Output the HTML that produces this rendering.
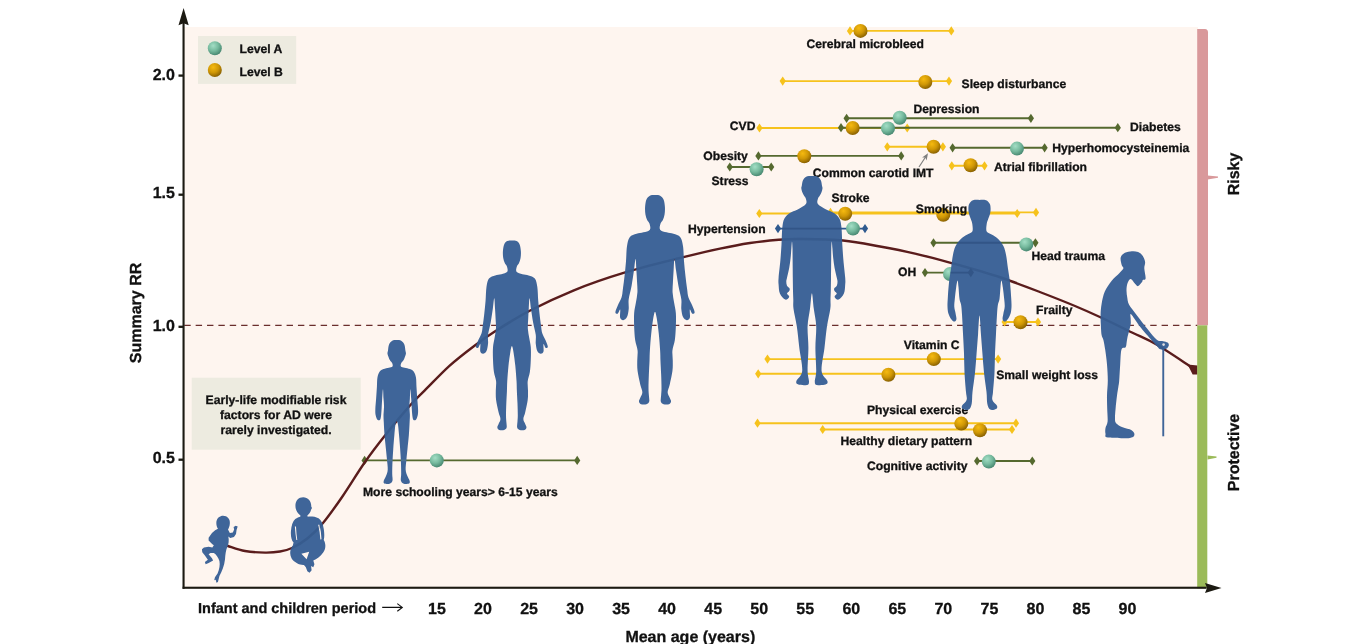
<!DOCTYPE html>
<html><head><meta charset="utf-8"><title>Chart</title>
<style>
html,body{margin:0;padding:0;background:#fff;}
body{width:1361px;height:644px;overflow:hidden;font-family:"Liberation Sans",sans-serif;}
svg{display:block;}
text{font-family:"Liberation Sans",sans-serif;font-weight:bold;fill:#111111;stroke:#111111;stroke-width:0.3px;text-rendering:geometricPrecision;}
</style></head><body>
<svg width="1361" height="644" viewBox="0 0 1361 644">
<defs>
<radialGradient id="gA" cx="0.38" cy="0.32" r="0.75">
<stop offset="0" stop-color="#a3dec5"/><stop offset="0.5" stop-color="#76ba9e"/><stop offset="1" stop-color="#3f7f69"/>
</radialGradient>
<radialGradient id="gB" cx="0.38" cy="0.30" r="0.78">
<stop offset="0" stop-color="#f6ba10"/><stop offset="0.5" stop-color="#cf9706"/><stop offset="1" stop-color="#7a5500"/>
</radialGradient>
<filter id="idf" x="0" y="0" width="1361" height="644" filterUnits="userSpaceOnUse" color-interpolation-filters="sRGB"><feOffset dx="0" dy="0"/></filter>
</defs>
<rect x="184" y="27" width="1014" height="561.5" fill="#fef5ef"/>
<rect x="198" y="36" width="98.2" height="47.9" fill="#edebe0"/>
<rect x="191.7" y="377.7" width="169" height="72" fill="#edebe0"/>
<line x1="184.3" y1="325.4" x2="1197.5" y2="325.4" stroke="#6a2e2c" stroke-width="1.4" stroke-dasharray="6.4 4.964"/>
<line x1="850" y1="30.9" x2="951.3" y2="30.9" stroke="#f6c21c" stroke-width="1.9"/>
<path d="M846.9,30.9 L850.0,26.3 L853.1,30.9 L850.0,35.5Z" fill="#f6c21c"/>
<path d="M948.2,30.9 L951.3,26.3 L954.4,30.9 L951.3,35.5Z" fill="#f6c21c"/>
<line x1="782.7" y1="81.1" x2="949" y2="81.1" stroke="#f6c21c" stroke-width="1.9"/>
<path d="M779.6,81.1 L782.7,76.5 L785.8,81.1 L782.7,85.7Z" fill="#f6c21c"/>
<path d="M945.9,81.1 L949.0,76.5 L952.1,81.1 L949.0,85.7Z" fill="#f6c21c"/>
<line x1="846.6" y1="118.3" x2="1030.9" y2="118.3" stroke="#55692f" stroke-width="1.9"/>
<path d="M843.5,118.3 L846.6,113.7 L849.7,118.3 L846.6,122.9Z" fill="#55692f"/>
<path d="M1027.8,118.3 L1030.9,113.7 L1034.0,118.3 L1030.9,122.9Z" fill="#55692f"/>
<line x1="759.5" y1="128" x2="907.2" y2="128" stroke="#f6c21c" stroke-width="1.9"/>
<path d="M756.4,128.0 L759.5,123.4 L762.6,128.0 L759.5,132.6Z" fill="#f6c21c"/>
<path d="M904.1,128.0 L907.2,123.4 L910.3,128.0 L907.2,132.6Z" fill="#f6c21c"/>
<line x1="841" y1="127.7" x2="1117.8" y2="127.7" stroke="#55692f" stroke-width="1.9"/>
<path d="M837.9,127.7 L841.0,123.1 L844.1,127.7 L841.0,132.3Z" fill="#55692f"/>
<path d="M1114.7,127.7 L1117.8,123.1 L1120.9,127.7 L1117.8,132.3Z" fill="#55692f"/>
<line x1="887.3" y1="146.8" x2="942.9" y2="146.8" stroke="#f6c21c" stroke-width="1.9"/>
<path d="M884.2,146.8 L887.3,142.2 L890.4,146.8 L887.3,151.4Z" fill="#f6c21c"/>
<path d="M939.8,146.8 L942.9,142.2 L946.0,146.8 L942.9,151.4Z" fill="#f6c21c"/>
<line x1="952.6" y1="147.8" x2="1044.6" y2="147.8" stroke="#55692f" stroke-width="1.9"/>
<path d="M949.5,147.8 L952.6,143.2 L955.7,147.8 L952.6,152.4Z" fill="#55692f"/>
<path d="M1041.5,147.8 L1044.6,143.2 L1047.7,147.8 L1044.6,152.4Z" fill="#55692f"/>
<line x1="758.4" y1="155.9" x2="901.2" y2="155.9" stroke="#55692f" stroke-width="1.9"/>
<path d="M755.3,155.9 L758.4,151.3 L761.5,155.9 L758.4,160.5Z" fill="#55692f"/>
<path d="M898.1,155.9 L901.2,151.3 L904.3,155.9 L901.2,160.5Z" fill="#55692f"/>
<line x1="729.8" y1="167" x2="771.2" y2="167" stroke="#55692f" stroke-width="1.9"/>
<path d="M726.7,167.0 L729.8,162.4 L732.9,167.0 L729.8,171.6Z" fill="#55692f"/>
<path d="M768.1,167.0 L771.2,162.4 L774.3,167.0 L771.2,171.6Z" fill="#55692f"/>
<line x1="951.8" y1="165.8" x2="984.5" y2="165.8" stroke="#f6c21c" stroke-width="1.9"/>
<path d="M948.7,165.8 L951.8,161.2 L954.9,165.8 L951.8,170.4Z" fill="#f6c21c"/>
<path d="M981.4,165.8 L984.5,161.2 L987.6,165.8 L984.5,170.4Z" fill="#f6c21c"/>
<line x1="759.3" y1="213.5" x2="1017.2" y2="213.5" stroke="#f6c21c" stroke-width="1.9"/>
<path d="M756.2,213.5 L759.3,208.9 L762.4,213.5 L759.3,218.1Z" fill="#f6c21c"/>
<path d="M1014.1,213.5 L1017.2,208.9 L1020.3,213.5 L1017.2,218.1Z" fill="#f6c21c"/>
<line x1="830.5" y1="212.4" x2="1036" y2="212.4" stroke="#f6c21c" stroke-width="1.9"/>
<path d="M827.4,212.4 L830.5,207.8 L833.6,212.4 L830.5,217.0Z" fill="#f6c21c"/>
<path d="M1032.9,212.4 L1036.0,207.8 L1039.1,212.4 L1036.0,217.0Z" fill="#f6c21c"/>
<line x1="778" y1="228.6" x2="865" y2="228.6" stroke="#2f5a8f" stroke-width="1.9"/>
<path d="M774.9,228.6 L778.0,224.0 L781.1,228.6 L778.0,233.2Z" fill="#2f5a8f"/>
<path d="M861.9,228.6 L865.0,224.0 L868.1,228.6 L865.0,233.2Z" fill="#2f5a8f"/>
<line x1="933.5" y1="242.8" x2="1035.4" y2="242.8" stroke="#55692f" stroke-width="1.9"/>
<path d="M930.4,242.8 L933.5,238.2 L936.6,242.8 L933.5,247.4Z" fill="#55692f"/>
<path d="M1032.3,242.8 L1035.4,238.2 L1038.5,242.8 L1035.4,247.4Z" fill="#55692f"/>
<line x1="925" y1="272.6" x2="970.8" y2="272.6" stroke="#55692f" stroke-width="1.9"/>
<path d="M921.9,272.6 L925.0,268.0 L928.1,272.6 L925.0,277.2Z" fill="#55692f"/>
<path d="M967.7,272.6 L970.8,268.0 L973.9,272.6 L970.8,277.2Z" fill="#55692f"/>
<line x1="1004.6" y1="322" x2="1038" y2="322" stroke="#f6c21c" stroke-width="1.9"/>
<path d="M1001.5,322.0 L1004.6,317.4 L1007.7,322.0 L1004.6,326.6Z" fill="#f6c21c"/>
<path d="M1034.9,322.0 L1038.0,317.4 L1041.1,322.0 L1038.0,326.6Z" fill="#f6c21c"/>
<line x1="767.5" y1="359.1" x2="998.1" y2="359.1" stroke="#f6c21c" stroke-width="1.9"/>
<path d="M764.4,359.1 L767.5,354.5 L770.6,359.1 L767.5,363.7Z" fill="#f6c21c"/>
<path d="M995.0,359.1 L998.1,354.5 L1001.2,359.1 L998.1,363.7Z" fill="#f6c21c"/>
<line x1="758.2" y1="373.8" x2="989" y2="373.8" stroke="#f6c21c" stroke-width="1.9"/>
<path d="M755.1,373.8 L758.2,369.2 L761.3,373.8 L758.2,378.4Z" fill="#f6c21c"/>
<path d="M985.9,373.8 L989.0,369.2 L992.1,373.8 L989.0,378.4Z" fill="#f6c21c"/>
<line x1="757.5" y1="423.2" x2="1016" y2="423.2" stroke="#f6c21c" stroke-width="1.9"/>
<path d="M754.4,423.2 L757.5,418.6 L760.6,423.2 L757.5,427.8Z" fill="#f6c21c"/>
<path d="M1012.9,423.2 L1016.0,418.6 L1019.1,423.2 L1016.0,427.8Z" fill="#f6c21c"/>
<line x1="822.7" y1="429.5" x2="1012" y2="429.5" stroke="#f6c21c" stroke-width="1.9"/>
<path d="M819.6,429.5 L822.7,424.9 L825.8,429.5 L822.7,434.1Z" fill="#f6c21c"/>
<path d="M1008.9,429.5 L1012.0,424.9 L1015.1,429.5 L1012.0,434.1Z" fill="#f6c21c"/>
<line x1="977.1" y1="461" x2="1032.3" y2="461" stroke="#55692f" stroke-width="1.9"/>
<path d="M974.0,461.0 L977.1,456.4 L980.2,461.0 L977.1,465.6Z" fill="#55692f"/>
<path d="M1029.2,461.0 L1032.3,456.4 L1035.4,461.0 L1032.3,465.6Z" fill="#55692f"/>
<line x1="364.6" y1="460.4" x2="577.2" y2="460.4" stroke="#55692f" stroke-width="1.9"/>
<path d="M361.5,460.4 L364.6,455.8 L367.7,460.4 L364.6,465.0Z" fill="#55692f"/>
<path d="M574.1,460.4 L577.2,455.8 L580.3,460.4 L577.2,465.0Z" fill="#55692f"/>
<path d="M228.0,546.0 C230.8,546.8 238.8,549.9 245.0,551.0 C251.2,552.1 259.2,552.5 265.0,552.6 C270.8,552.7 275.5,552.3 280.0,551.5 C284.5,550.7 287.3,550.2 292.0,548.0 C296.7,545.8 302.8,542.2 308.0,538.0 C313.2,533.8 317.2,530.0 323.0,523.0 C328.8,516.0 335.6,506.4 342.6,496.2 C349.6,486.0 357.9,472.1 365.0,462.0 C372.1,451.9 377.5,444.9 385.0,435.5 C392.5,426.1 403.4,413.0 410.0,405.5 C416.6,398.0 418.2,397.0 424.8,390.4 C431.4,383.8 441.4,373.1 449.7,365.6 C458.0,358.2 467.1,351.3 474.5,345.7 C481.9,340.1 485.3,337.6 494.4,331.8 C503.5,326.0 516.0,317.9 529.2,311.0 C542.5,304.1 558.2,296.7 573.9,290.3 C589.6,283.9 606.0,278.2 623.6,272.9 C641.2,267.5 663.2,262.2 679.3,258.2 C695.4,254.1 708.2,251.1 720.0,248.6 C731.8,246.1 740.2,244.5 750.0,243.0 C759.8,241.5 770.3,240.5 778.6,239.8 C786.9,239.1 789.3,238.9 800.0,239.0 C810.7,239.1 829.7,239.2 843.0,240.5 C856.3,241.8 868.0,244.3 880.0,246.5 C892.0,248.7 903.2,250.9 915.0,253.6 C926.8,256.3 936.4,258.8 950.7,262.8 C965.0,266.8 985.0,272.3 1000.7,277.5 C1016.4,282.7 1032.6,289.2 1045.0,294.0 C1057.4,298.8 1065.7,302.1 1075.0,306.0 C1084.3,309.9 1091.5,313.1 1101.0,317.5 C1110.5,321.9 1122.8,328.0 1132.0,332.5 C1141.2,337.0 1146.5,338.7 1156.5,344.5 C1166.5,350.3 1186.1,363.7 1192.0,367.5" fill="none" stroke="#5a1c1c" stroke-width="2.4" stroke-linecap="round"/>
<path d="M1187.6,364.6 L1197.5,365.4 L1197.5,374.5 L1192.6,374.5 Z" fill="#5a1c1c"/>
<circle cx="860.5" cy="30.9" r="7" fill="url(#gB)"/>
<circle cx="925.3" cy="82" r="7" fill="url(#gB)"/>
<circle cx="899.7" cy="117.7" r="7" fill="url(#gA)"/>
<circle cx="852.7" cy="128" r="7" fill="url(#gB)"/>
<circle cx="888" cy="128.4" r="7" fill="url(#gA)"/>
<circle cx="933.6" cy="146.8" r="7" fill="url(#gB)"/>
<circle cx="1017" cy="148.6" r="7" fill="url(#gA)"/>
<circle cx="804.3" cy="156.2" r="7" fill="url(#gB)"/>
<circle cx="756.6" cy="169.3" r="7" fill="url(#gA)"/>
<circle cx="970.6" cy="165.3" r="7" fill="url(#gB)"/>
<circle cx="845.2" cy="213.7" r="7" fill="url(#gB)"/>
<circle cx="943.3" cy="214.8" r="7" fill="url(#gB)"/>
<circle cx="853" cy="228.6" r="7" fill="url(#gA)"/>
<circle cx="1026.3" cy="244.4" r="7" fill="url(#gA)"/>
<circle cx="950" cy="274" r="7" fill="url(#gA)"/>
<circle cx="1020.5" cy="322.2" r="7" fill="url(#gB)"/>
<circle cx="933.8" cy="359.1" r="7" fill="url(#gB)"/>
<circle cx="888.4" cy="374.7" r="7" fill="url(#gB)"/>
<circle cx="961.3" cy="423.6" r="7" fill="url(#gB)"/>
<circle cx="980" cy="430.2" r="7" fill="url(#gB)"/>
<circle cx="988.8" cy="461.6" r="7" fill="url(#gA)"/>
<circle cx="436.8" cy="460.4" r="7" fill="url(#gA)"/>
<g filter="url(#idf)">
<text x="806.5" y="48" font-size="12.15">Cerebral microbleed</text>
<text x="961.6" y="87.5" font-size="12.15">Sleep disturbance</text>
<text x="913.4" y="112.6" font-size="12.15">Depression</text>
<text x="729.8" y="130.3" font-size="12.15">CVD</text>
<text x="1130.1" y="130.6" font-size="12.15">Diabetes</text>
<text x="1052.3" y="151.5" font-size="12.15">Hyperhomocysteinemia</text>
<text x="703.3" y="160" font-size="12.15">Obesity</text>
<text x="812.8" y="176.6" font-size="12.15">Common carotid IMT</text>
<text x="993.9" y="171" font-size="12.15">Atrial fibrillation</text>
<text x="711.5" y="184.6" font-size="12.15">Stress</text>
<text x="831.6" y="201.5" font-size="12.15">Stroke</text>
<text x="915.8" y="213.4" font-size="12.15">Smoking</text>
<text x="688" y="232.6" font-size="12.15">Hypertension</text>
<text x="1031.4" y="260.4" font-size="12.15">Head trauma</text>
<text x="898" y="276.2" font-size="12.15">OH</text>
<text x="1036" y="314" font-size="12.15">Frailty</text>
<text x="903.8" y="349.3" font-size="12.15">Vitamin C</text>
<text x="996.2" y="378.7" font-size="12.15">Small weight loss</text>
<text x="867" y="414" font-size="12.15">Physical exercise</text>
<text x="840.6" y="444.8" font-size="12.15">Healthy dietary pattern</text>
<text x="867" y="469.5" font-size="12.15">Cognitive activity</text>
<text x="363" y="496" font-size="12.15">More schooling years&gt; 6-15 years</text>
</g>
<g fill="#3f6599">
<path transform="translate(190,480) scale(0.18625,0.18625)" d="M178,192 C200,192 216,210 214,232 C213,250 208,258 204,266 L214,284 L230,282 L237,266 L234,252 L246,246 L256,250 L250,268 L247,290 L236,306 L216,312 L206,304 C210,325 208,345 200,360 C192,380 190,400 188,425 C184,460 172,490 158,515 L150,548 L142,552 L138,535 L130,538 L134,522 L148,502 C158,480 162,455 158,435 C152,415 140,400 128,392 L110,392 L100,398 L118,420 L124,432 L100,445 L84,452 L80,440 L96,428 L80,405 L66,388 L64,372 L75,362 L100,358 L120,362 L128,350 L120,345 L100,325 L100,310 L118,285 L135,270 L150,262 C142,250 140,235 142,222 C146,204 160,192 178,192 Z"/>
<path transform="translate(190,480) scale(0.18625,0.18625)" d="M608,92 C633,92 652,112 651,142 L655,150 L650,160 C647,172 640,184 630,190 L632,197 C650,196 672,196 690,206 C705,215 714,235 718,262 C722,290 722,305 718,322 C730,340 730,368 716,388 C700,412 680,425 662,432 L668,452 L662,468 L650,462 L653,484 L642,498 L630,490 L622,468 L612,456 C590,458 558,442 545,420 C533,398 537,372 552,352 L556,336 C545,325 540,300 542,275 C544,245 552,222 565,210 C575,202 585,199 592,197 L593,190 C577,180 566,160 566,138 C566,110 583,92 608,92 Z"/>
<path transform="translate(0,0) scale(1.00000,1.00000)" d="M396.70,340.02 C398.19,340.02 399.91,340.07 401.18,340.81 C402.46,341.56 403.64,342.88 404.35,344.50 C405.05,346.13 405.14,349.03 405.40,350.57 C405.66,352.11 406.02,352.68 405.93,353.73 C405.84,354.79 405.31,355.76 404.87,356.90 C404.43,358.04 403.91,359.54 403.29,360.59 C402.68,361.65 401.58,362.26 401.18,363.23 C400.79,364.19 400.35,365.65 400.92,366.39 C401.49,367.14 403.12,367.27 404.61,367.71 C406.10,368.15 408.35,368.37 409.88,369.03 C411.42,369.69 412.83,370.26 413.84,371.67 C414.85,373.07 415.51,374.96 415.95,377.47 C416.39,379.97 416.26,383.18 416.48,386.70 C416.70,390.21 417.00,394.83 417.27,398.57 C417.53,402.30 417.97,406.39 418.06,409.11 C418.15,411.84 418.15,413.16 417.80,414.92 C417.44,416.67 416.70,418.87 415.95,419.66 C415.20,420.45 413.93,420.45 413.31,419.66 C412.70,418.87 412.52,416.89 412.26,414.92 C411.99,412.94 411.91,410.52 411.73,407.80 C411.55,405.07 411.42,401.64 411.20,398.57 C410.98,395.49 410.63,389.34 410.41,389.34 C410.19,389.34 410.06,395.71 409.88,398.57 C409.71,401.42 409.36,403.84 409.36,406.48 C409.36,409.11 409.84,411.75 409.88,414.39 C409.93,417.03 409.80,418.78 409.62,422.30 C409.44,425.82 409.18,431.09 408.83,435.49 C408.48,439.88 407.91,444.72 407.51,448.67 C407.11,452.63 406.76,455.70 406.46,459.22 C406.15,462.74 405.49,466.91 405.66,469.77 C405.84,472.62 406.85,474.51 407.51,476.36 C408.17,478.21 409.36,479.66 409.62,480.84 C409.88,482.03 410.06,483.00 409.09,483.48 C408.13,483.96 405.18,484.18 403.82,483.74 C402.46,483.31 401.36,482.51 400.92,480.84 C400.48,479.17 401.18,476.89 401.18,473.72 C401.18,470.56 401.09,466.03 400.92,461.86 C400.74,457.68 400.43,453.07 400.13,448.67 C399.82,444.28 399.42,439.44 399.07,435.49 C398.72,431.53 398.41,427.31 398.02,424.94 C397.62,422.56 397.14,421.24 396.70,421.24 C396.26,421.24 395.78,422.56 395.38,424.94 C394.98,427.31 394.68,431.53 394.32,435.49 C393.97,439.44 393.58,444.28 393.27,448.67 C392.96,453.07 392.65,457.68 392.48,461.86 C392.30,466.03 392.22,470.56 392.22,473.72 C392.22,476.89 392.92,479.17 392.48,480.84 C392.04,482.51 390.94,483.31 389.58,483.74 C388.22,484.18 385.27,483.96 384.30,483.48 C383.34,483.00 383.51,482.03 383.78,480.84 C384.04,479.66 385.23,478.21 385.89,476.36 C386.55,474.51 387.56,472.62 387.73,469.77 C387.91,466.91 387.25,462.74 386.94,459.22 C386.63,455.70 386.28,452.63 385.89,448.67 C385.49,444.72 384.92,439.88 384.57,435.49 C384.22,431.09 383.95,425.82 383.78,422.30 C383.60,418.78 383.47,417.03 383.51,414.39 C383.56,411.75 384.04,409.11 384.04,406.48 C384.04,403.84 383.69,401.42 383.51,398.57 C383.34,395.71 383.20,389.34 382.99,389.34 C382.77,389.34 382.41,395.49 382.19,398.57 C381.97,401.64 381.84,405.07 381.67,407.80 C381.49,410.52 381.40,412.94 381.14,414.92 C380.88,416.89 380.70,418.87 380.08,419.66 C379.47,420.45 378.19,420.45 377.45,419.66 C376.70,418.87 375.95,416.67 375.60,414.92 C375.25,413.16 375.25,411.84 375.34,409.11 C375.43,406.39 375.86,402.30 376.13,398.57 C376.39,394.83 376.70,390.21 376.92,386.70 C377.14,383.18 377.01,379.97 377.45,377.47 C377.89,374.96 378.55,373.07 379.56,371.67 C380.57,370.26 381.97,369.69 383.51,369.03 C385.05,368.37 387.29,368.15 388.79,367.71 C390.28,367.27 391.91,367.14 392.48,366.39 C393.05,365.65 392.61,364.19 392.22,363.23 C391.82,362.26 390.72,361.65 390.11,360.59 C389.49,359.54 388.96,358.04 388.52,356.90 C388.08,355.76 387.56,354.79 387.47,353.73 C387.38,352.68 387.73,352.11 388.00,350.57 C388.26,349.03 388.35,346.13 389.05,344.50 C389.75,342.88 390.94,341.56 392.22,340.81 C393.49,340.07 395.20,340.02 396.70,340.02Z"/>
<path transform="translate(0,0) scale(1.00000,1.00000)" d="M511.90,240.40 C513.45,240.40 515.26,240.35 516.55,241.02 C517.84,241.69 518.92,242.72 519.64,244.43 C520.37,246.13 520.73,248.97 520.88,251.24 C521.04,253.51 520.88,256.09 520.57,258.06 C520.26,260.02 519.64,261.62 519.02,263.01 C518.40,264.41 517.27,264.97 516.86,266.42 C516.44,267.86 515.62,270.39 516.55,271.68 C517.48,272.97 520.42,273.54 522.43,274.16 C524.44,274.78 526.56,274.68 528.63,275.40 C530.69,276.12 533.38,276.59 534.82,278.50 C536.27,280.41 536.73,283.14 537.30,286.86 C537.87,290.58 537.87,296.41 538.23,300.80 C538.59,305.19 539.00,309.06 539.47,313.19 C539.93,317.32 540.55,322.22 541.02,325.58 C541.48,328.93 541.48,330.85 542.25,333.32 C543.03,335.80 544.73,338.23 545.66,340.45 C546.59,342.67 547.83,345.40 547.83,346.64 C547.83,347.88 546.38,348.29 545.66,347.88 C544.94,347.47 543.86,343.54 543.49,344.16 C543.13,344.78 543.96,350.00 543.49,351.60 C543.03,353.20 541.74,353.87 540.71,353.77 C539.67,353.66 538.12,352.68 537.30,350.98 C536.47,349.27 536.01,346.23 535.75,343.54 C535.49,340.86 536.19,338.38 535.75,334.87 C535.31,331.36 533.92,326.87 533.12,322.48 C532.32,318.09 531.54,312.57 530.95,308.54 C530.36,304.52 529.92,298.32 529.56,298.32 C529.19,298.32 529.01,305.03 528.78,308.54 C528.55,312.05 528.32,316.03 528.16,319.38 C528.01,322.74 527.67,325.58 527.85,328.68 C528.03,331.77 528.76,334.87 529.25,337.97 C529.74,341.07 530.54,343.65 530.79,347.26 C531.05,350.88 530.95,355.52 530.79,359.65 C530.64,363.78 530.38,368.43 529.87,372.04 C529.35,375.65 528.01,378.24 527.70,381.33 C527.39,384.43 528.01,387.53 528.01,390.63 C528.01,393.72 528.16,396.30 527.70,399.92 C527.23,403.53 525.94,409.11 525.22,412.31 C524.50,415.51 523.36,417.16 523.36,419.12 C523.36,421.08 524.70,422.68 525.22,424.08 C525.74,425.47 526.56,426.50 526.46,427.48 C526.35,428.47 525.74,429.55 524.60,429.96 C523.46,430.38 520.88,430.38 519.64,429.96 C518.40,429.55 517.53,428.88 517.17,427.48 C516.80,426.09 517.37,423.61 517.48,421.60 C517.58,419.59 517.79,418.50 517.79,415.40 C517.79,412.31 517.63,407.15 517.48,403.02 C517.32,398.89 517.01,394.24 516.86,390.63 C516.70,387.01 516.80,385.46 516.55,381.33 C516.29,377.20 515.82,370.75 515.31,365.85 C514.79,360.94 514.02,355.21 513.45,351.91 C512.88,348.60 512.42,346.02 511.90,346.02 C511.38,346.02 510.92,348.60 510.35,351.91 C509.78,355.21 509.01,360.94 508.49,365.85 C507.98,370.75 507.51,377.20 507.25,381.33 C507.00,385.46 507.10,387.01 506.94,390.63 C506.79,394.24 506.48,398.89 506.32,403.02 C506.17,407.15 506.01,412.31 506.01,415.40 C506.01,418.50 506.22,419.59 506.32,421.60 C506.43,423.61 507.00,426.09 506.63,427.48 C506.27,428.88 505.40,429.55 504.16,429.96 C502.92,430.38 500.34,430.38 499.20,429.96 C498.06,429.55 497.45,428.47 497.34,427.48 C497.24,426.50 498.06,425.47 498.58,424.08 C499.10,422.68 500.44,421.08 500.44,419.12 C500.44,417.16 499.30,415.51 498.58,412.31 C497.86,409.11 496.57,403.53 496.10,399.92 C495.64,396.30 495.79,393.72 495.79,390.63 C495.79,387.53 496.41,384.43 496.10,381.33 C495.79,378.24 494.45,375.65 493.93,372.04 C493.42,368.43 493.16,363.78 493.01,359.65 C492.85,355.52 492.75,350.88 493.01,347.26 C493.26,343.65 494.06,341.07 494.55,337.97 C495.04,334.87 495.77,331.77 495.95,328.68 C496.13,325.58 495.79,322.74 495.64,319.38 C495.48,316.03 495.25,312.05 495.02,308.54 C494.79,305.03 494.61,298.32 494.24,298.32 C493.88,298.32 493.44,304.52 492.85,308.54 C492.26,312.57 491.48,318.09 490.68,322.48 C489.88,326.87 488.49,331.36 488.05,334.87 C487.61,338.38 488.31,340.86 488.05,343.54 C487.79,346.23 487.33,349.27 486.50,350.98 C485.68,352.68 484.13,353.66 483.09,353.77 C482.06,353.87 480.77,353.20 480.31,351.60 C479.84,350.00 480.67,344.78 480.31,344.16 C479.94,343.54 478.86,347.47 478.14,347.88 C477.42,348.29 475.97,347.88 475.97,346.64 C475.97,345.40 477.21,342.67 478.14,340.45 C479.07,338.23 480.77,335.80 481.55,333.32 C482.32,330.85 482.32,328.93 482.78,325.58 C483.25,322.22 483.87,317.32 484.33,313.19 C484.80,309.06 485.21,305.19 485.57,300.80 C485.93,296.41 485.93,290.58 486.50,286.86 C487.07,283.14 487.53,280.41 488.98,278.50 C490.42,276.59 493.11,276.12 495.17,275.40 C497.24,274.68 499.36,274.78 501.37,274.16 C503.38,273.54 506.32,272.97 507.25,271.68 C508.18,270.39 507.36,267.86 506.94,266.42 C506.53,264.97 505.40,264.41 504.78,263.01 C504.16,261.62 503.54,260.02 503.23,258.06 C502.92,256.09 502.76,253.51 502.92,251.24 C503.07,248.97 503.43,246.13 504.16,244.43 C504.88,242.72 505.96,241.69 507.25,241.02 C508.54,240.35 510.35,240.40 511.90,240.40Z"/>
<path transform="translate(0,0) scale(1.00000,1.00000)" d="M655.01,195.12 C656.71,195.12 658.71,195.07 660.13,195.81 C661.55,196.55 662.75,197.69 663.55,199.57 C664.34,201.45 664.74,204.58 664.91,207.08 C665.08,209.59 664.91,212.43 664.57,214.60 C664.23,216.76 663.55,218.53 662.86,220.06 C662.18,221.60 660.93,222.23 660.47,223.82 C660.02,225.42 659.10,228.21 660.13,229.63 C661.15,231.05 664.40,231.68 666.62,232.36 C668.84,233.05 671.18,232.93 673.45,233.73 C675.73,234.53 678.69,235.04 680.29,237.15 C681.88,239.25 682.39,242.27 683.02,246.37 C683.65,250.47 683.65,256.91 684.05,261.75 C684.44,266.59 684.90,270.86 685.41,275.41 C685.92,279.97 686.61,285.38 687.12,289.08 C687.63,292.78 687.63,294.89 688.49,297.62 C689.34,300.35 691.22,303.03 692.24,305.48 C693.27,307.93 694.64,310.94 694.64,312.31 C694.64,313.68 693.04,314.13 692.24,313.68 C691.45,313.22 690.25,308.89 689.85,309.58 C689.45,310.26 690.37,316.01 689.85,317.78 C689.34,319.54 687.92,320.28 686.78,320.17 C685.64,320.05 683.93,318.97 683.02,317.09 C682.11,315.21 681.60,311.85 681.31,308.89 C681.03,305.93 681.80,303.20 681.31,299.33 C680.83,295.45 679.29,290.50 678.41,285.66 C677.53,280.82 676.67,274.73 676.02,270.29 C675.36,265.85 674.88,259.01 674.48,259.01 C674.08,259.01 673.88,266.41 673.62,270.29 C673.37,274.16 673.11,278.54 672.94,282.24 C672.77,285.95 672.40,289.08 672.60,292.49 C672.80,295.91 673.60,299.33 674.14,302.74 C674.68,306.16 675.56,309.01 675.85,312.99 C676.13,316.98 676.02,322.10 675.85,326.66 C675.67,331.21 675.39,336.34 674.82,340.32 C674.25,344.31 672.77,347.16 672.43,350.57 C672.09,353.99 672.77,357.41 672.77,360.82 C672.77,364.24 672.94,367.09 672.43,371.07 C671.92,375.06 670.49,381.21 669.70,384.74 C668.90,388.27 667.65,390.09 667.65,392.25 C667.65,394.42 669.13,396.18 669.70,397.72 C670.27,399.26 671.18,400.40 671.06,401.48 C670.95,402.56 670.27,403.76 669.01,404.21 C667.76,404.67 664.91,404.67 663.55,404.21 C662.18,403.76 661.21,403.02 660.81,401.48 C660.41,399.94 661.04,397.21 661.15,394.99 C661.27,392.77 661.50,391.57 661.50,388.16 C661.50,384.74 661.33,379.04 661.15,374.49 C660.98,369.93 660.64,364.81 660.47,360.82 C660.30,356.84 660.41,355.13 660.13,350.57 C659.85,346.02 659.33,338.90 658.76,333.49 C658.19,328.08 657.34,321.76 656.71,318.12 C656.09,314.47 655.57,311.63 655.01,311.63 C654.44,311.63 653.92,314.47 653.30,318.12 C652.67,321.76 651.82,328.08 651.25,333.49 C650.68,338.90 650.17,346.02 649.88,350.57 C649.60,355.13 649.71,356.84 649.54,360.82 C649.37,364.81 649.03,369.93 648.86,374.49 C648.68,379.04 648.51,384.74 648.51,388.16 C648.51,391.57 648.74,392.77 648.86,394.99 C648.97,397.21 649.60,399.94 649.20,401.48 C648.80,403.02 647.83,403.76 646.46,404.21 C645.10,404.67 642.25,404.67 641.00,404.21 C639.74,403.76 639.06,402.56 638.95,401.48 C638.83,400.40 639.74,399.26 640.31,397.72 C640.88,396.18 642.36,394.42 642.36,392.25 C642.36,390.09 641.11,388.27 640.31,384.74 C639.52,381.21 638.09,375.06 637.58,371.07 C637.07,367.09 637.24,364.24 637.24,360.82 C637.24,357.41 637.92,353.99 637.58,350.57 C637.24,347.16 635.76,344.31 635.19,340.32 C634.62,336.34 634.34,331.21 634.16,326.66 C633.99,322.10 633.88,316.98 634.16,312.99 C634.45,309.01 635.33,306.16 635.87,302.74 C636.41,299.33 637.21,295.91 637.41,292.49 C637.61,289.08 637.24,285.95 637.07,282.24 C636.90,278.54 636.64,274.16 636.39,270.29 C636.13,266.41 635.93,259.01 635.53,259.01 C635.13,259.01 634.65,265.85 633.99,270.29 C633.34,274.73 632.48,280.82 631.60,285.66 C630.72,290.50 629.18,295.45 628.70,299.33 C628.21,303.20 628.98,305.93 628.70,308.89 C628.41,311.85 627.90,315.21 626.99,317.09 C626.08,318.97 624.37,320.05 623.23,320.17 C622.09,320.28 620.67,319.54 620.16,317.78 C619.64,316.01 620.56,310.26 620.16,309.58 C619.76,308.89 618.56,313.22 617.77,313.68 C616.97,314.13 615.37,313.68 615.37,312.31 C615.37,310.94 616.74,307.93 617.77,305.48 C618.79,303.03 620.67,300.35 621.52,297.62 C622.38,294.89 622.38,292.78 622.89,289.08 C623.40,285.38 624.09,279.97 624.60,275.41 C625.11,270.86 625.57,266.59 625.97,261.75 C626.36,256.91 626.36,250.47 626.99,246.37 C627.62,242.27 628.13,239.25 629.72,237.15 C631.32,235.04 634.28,234.53 636.56,233.73 C638.83,232.93 641.17,233.05 643.39,232.36 C645.61,231.68 648.86,231.05 649.88,229.63 C650.91,228.21 649.99,225.42 649.54,223.82 C649.08,222.23 647.83,221.60 647.15,220.06 C646.46,218.53 645.78,216.76 645.44,214.60 C645.10,212.43 644.93,209.59 645.10,207.08 C645.27,204.58 645.67,201.45 646.46,199.57 C647.26,197.69 648.46,196.55 649.88,195.81 C651.30,195.07 653.30,195.12 655.01,195.12Z"/>
<path transform="translate(0,0) scale(1.00000,1.00000)" d="M811.90,176.00 C813.83,176.00 816.22,176.00 817.70,176.70 C819.18,177.40 820.08,178.68 820.80,180.20 C821.52,181.72 821.72,184.45 822.00,185.80 C822.28,187.15 822.57,187.27 822.50,188.30 C822.43,189.33 822.07,190.77 821.60,192.00 C821.13,193.23 820.30,194.62 819.70,195.70 C819.10,196.78 818.30,197.10 818.00,198.50 C817.70,199.90 816.55,202.27 817.90,204.10 C819.25,205.93 823.35,207.98 826.10,209.50 C828.85,211.02 832.17,211.65 834.40,213.20 C836.63,214.75 838.32,216.37 839.50,218.80 C840.68,221.23 841.03,223.52 841.50,227.80 C841.97,232.08 841.98,239.13 842.30,244.50 C842.62,249.87 842.92,254.45 843.40,260.00 C843.88,265.55 844.90,273.73 845.20,277.80 C845.50,281.87 845.42,281.77 845.20,284.40 C844.98,287.03 845.00,291.07 843.90,293.60 C842.80,296.13 840.15,299.05 838.60,299.60 C837.05,300.15 834.90,297.90 834.60,296.90 C834.30,295.90 836.80,294.58 836.80,293.60 C836.80,292.62 835.03,291.87 834.60,291.00 C834.17,290.13 833.83,289.28 834.20,288.40 C834.57,287.52 836.25,286.80 836.80,285.70 C837.35,284.60 837.50,283.12 837.50,281.80 C837.50,280.48 837.28,280.10 836.80,277.80 C836.32,275.50 835.20,271.30 834.60,268.00 C834.00,264.70 833.57,261.33 833.20,258.00 C832.83,254.67 832.63,250.75 832.40,248.00 C832.17,245.25 831.98,241.50 831.80,241.50 C831.62,241.50 831.40,245.25 831.30,248.00 C831.20,250.75 831.23,254.67 831.20,258.00 C831.17,261.33 831.13,264.67 831.10,268.00 C831.07,271.33 831.05,274.17 831.00,278.00 C830.95,281.83 830.88,287.33 830.80,291.00 C830.72,294.67 830.58,297.03 830.50,300.00 C830.42,302.97 830.88,304.42 830.30,308.80 C829.72,313.18 827.97,319.82 827.00,326.30 C826.03,332.78 825.40,340.25 824.50,347.70 C823.60,355.15 821.12,365.45 821.60,371.00 C822.08,376.55 826.75,378.73 827.40,381.00 C828.05,383.27 827.27,383.93 825.50,384.60 C823.73,385.27 818.58,385.48 816.80,385.00 C815.02,384.52 814.90,384.03 814.80,381.70 C814.70,379.37 816.10,376.67 816.20,371.00 C816.30,365.33 815.40,355.15 815.40,347.70 C815.40,340.25 816.47,332.78 816.20,326.30 C815.93,319.82 814.52,314.30 813.80,308.80 C813.08,303.30 812.53,293.30 811.90,293.30 C811.27,293.30 810.72,303.30 810.00,308.80 C809.28,314.30 807.87,319.82 807.60,326.30 C807.33,332.78 808.40,340.25 808.40,347.70 C808.40,355.15 807.50,365.33 807.60,371.00 C807.70,376.67 809.10,379.37 809.00,381.70 C808.90,384.03 808.78,384.52 807.00,385.00 C805.22,385.48 800.07,385.27 798.30,384.60 C796.53,383.93 795.75,383.27 796.40,381.00 C797.05,378.73 801.72,376.55 802.20,371.00 C802.68,365.45 800.20,355.15 799.30,347.70 C798.40,340.25 797.77,332.78 796.80,326.30 C795.83,319.82 794.08,313.18 793.50,308.80 C792.92,304.42 793.38,302.97 793.30,300.00 C793.22,297.03 793.08,294.67 793.00,291.00 C792.92,287.33 792.85,281.83 792.80,278.00 C792.75,274.17 792.73,271.33 792.70,268.00 C792.67,264.67 792.63,261.33 792.60,258.00 C792.57,254.67 792.60,250.75 792.50,248.00 C792.40,245.25 792.18,241.50 792.00,241.50 C791.82,241.50 791.63,245.25 791.40,248.00 C791.17,250.75 790.97,254.67 790.60,258.00 C790.23,261.33 789.80,264.70 789.20,268.00 C788.60,271.30 787.48,275.50 787.00,277.80 C786.52,280.10 786.30,280.48 786.30,281.80 C786.30,283.12 786.45,284.60 787.00,285.70 C787.55,286.80 789.23,287.52 789.60,288.40 C789.97,289.28 789.63,290.13 789.20,291.00 C788.77,291.87 787.00,292.62 787.00,293.60 C787.00,294.58 789.50,295.90 789.20,296.90 C788.90,297.90 786.75,300.15 785.20,299.60 C783.65,299.05 781.00,296.13 779.90,293.60 C778.80,291.07 778.82,287.03 778.60,284.40 C778.38,281.77 778.30,281.87 778.60,277.80 C778.90,273.73 779.92,265.55 780.40,260.00 C780.88,254.45 781.18,249.87 781.50,244.50 C781.82,239.13 781.83,232.08 782.30,227.80 C782.77,223.52 783.12,221.23 784.30,218.80 C785.48,216.37 787.17,214.75 789.40,213.20 C791.63,211.65 794.95,211.02 797.70,209.50 C800.45,207.98 804.55,205.93 805.90,204.10 C807.25,202.27 806.10,199.90 805.80,198.50 C805.50,197.10 804.70,196.78 804.10,195.70 C803.50,194.62 802.67,193.23 802.20,192.00 C801.73,190.77 801.37,189.33 801.30,188.30 C801.23,187.27 801.52,187.15 801.80,185.80 C802.08,184.45 802.28,181.72 803.00,180.20 C803.72,178.68 804.62,177.40 806.10,176.70 C807.58,176.00 809.97,176.00 811.90,176.00Z"/>
<path transform="translate(0,0) scale(1.00000,1.00000)" d="M979.50,199.90 C981.67,199.90 984.30,199.67 986.00,200.30 C987.70,200.93 988.93,202.32 989.70,203.70 C990.47,205.08 990.53,206.98 990.60,208.60 C990.67,210.22 990.52,211.62 990.10,213.40 C989.68,215.18 988.67,217.52 988.10,219.30 C987.53,221.08 986.93,222.07 986.70,224.10 C986.47,226.13 985.80,229.72 986.70,231.50 C987.60,233.28 990.23,233.60 992.10,234.80 C993.97,236.00 996.02,236.85 997.90,238.70 C999.78,240.55 1002.03,243.15 1003.40,245.90 C1004.77,248.65 1005.33,251.38 1006.10,255.20 C1006.87,259.02 1007.35,264.27 1008.00,268.80 C1008.65,273.33 1009.47,277.55 1010.00,282.40 C1010.53,287.25 1010.95,293.85 1011.20,297.90 C1011.45,301.95 1011.60,304.12 1011.50,306.70 C1011.40,309.28 1011.23,311.30 1010.60,313.40 C1009.97,315.50 1008.68,317.93 1007.70,319.30 C1006.72,320.67 1005.55,321.60 1004.70,321.60 C1003.85,321.60 1002.82,320.67 1002.60,319.30 C1002.38,317.93 1003.05,315.50 1003.40,313.40 C1003.75,311.30 1004.57,309.12 1004.70,306.70 C1004.83,304.28 1004.52,302.15 1004.20,298.90 C1003.88,295.65 1003.27,290.27 1002.80,287.20 C1002.33,284.13 1001.78,280.53 1001.40,280.50 C1001.02,280.47 1000.82,283.93 1000.50,287.00 C1000.18,290.07 999.93,295.95 999.50,298.90 C999.07,301.85 998.32,302.12 997.90,304.70 C997.48,307.28 997.32,309.55 997.00,314.40 C996.68,319.25 996.33,327.32 996.00,333.80 C995.67,340.28 995.25,346.82 995.00,353.30 C994.75,359.78 994.83,366.23 994.50,372.70 C994.17,379.17 993.35,387.57 993.00,392.10 C992.65,396.63 991.73,397.63 992.40,399.90 C993.07,402.17 996.40,404.18 997.00,405.70 C997.60,407.22 997.13,408.35 996.00,409.00 C994.87,409.65 991.65,410.48 990.20,409.60 C988.75,408.72 987.92,406.62 987.30,403.70 C986.68,400.78 987.05,397.27 986.50,392.10 C985.95,386.93 984.68,379.17 984.00,372.70 C983.32,366.23 982.92,359.78 982.40,353.30 C981.88,346.82 981.38,340.12 980.90,333.80 C980.42,327.48 979.97,315.40 979.50,315.40 C979.03,315.40 978.58,327.48 978.10,333.80 C977.62,340.12 977.12,346.82 976.60,353.30 C976.08,359.78 975.68,366.23 975.00,372.70 C974.32,379.17 973.05,386.93 972.50,392.10 C971.95,397.27 972.32,400.78 971.70,403.70 C971.08,406.62 970.25,408.72 968.80,409.60 C967.35,410.48 964.13,409.65 963.00,409.00 C961.87,408.35 961.40,407.22 962.00,405.70 C962.60,404.18 965.93,402.17 966.60,399.90 C967.27,397.63 966.35,396.63 966.00,392.10 C965.65,387.57 964.83,379.17 964.50,372.70 C964.17,366.23 964.25,359.78 964.00,353.30 C963.75,346.82 963.33,340.28 963.00,333.80 C962.67,327.32 962.32,319.25 962.00,314.40 C961.68,309.55 961.52,307.28 961.10,304.70 C960.68,302.12 959.93,301.85 959.50,298.90 C959.07,295.95 958.82,290.07 958.50,287.00 C958.18,283.93 957.98,280.47 957.60,280.50 C957.22,280.53 956.67,284.13 956.20,287.20 C955.73,290.27 955.12,295.65 954.80,298.90 C954.48,302.15 954.17,304.28 954.30,306.70 C954.43,309.12 955.25,311.30 955.60,313.40 C955.95,315.50 956.62,317.93 956.40,319.30 C956.18,320.67 955.15,321.60 954.30,321.60 C953.45,321.60 952.28,320.67 951.30,319.30 C950.32,317.93 949.03,315.50 948.40,313.40 C947.77,311.30 947.60,309.28 947.50,306.70 C947.40,304.12 947.55,301.95 947.80,297.90 C948.05,293.85 948.47,287.25 949.00,282.40 C949.53,277.55 950.35,273.33 951.00,268.80 C951.65,264.27 952.13,259.02 952.90,255.20 C953.67,251.38 954.23,248.65 955.60,245.90 C956.97,243.15 959.22,240.55 961.10,238.70 C962.98,236.85 965.03,236.00 966.90,234.80 C968.77,233.60 971.40,233.28 972.30,231.50 C973.20,229.72 972.53,226.13 972.30,224.10 C972.07,222.07 971.47,221.08 970.90,219.30 C970.33,217.52 969.32,215.18 968.90,213.40 C968.48,211.62 968.33,210.22 968.40,208.60 C968.47,206.98 968.53,205.08 969.30,203.70 C970.07,202.32 971.30,200.93 973.00,200.30 C974.70,199.67 977.33,199.90 979.50,199.90Z"/>
<path transform="translate(0,0) scale(1.00000,1.00000)" d="M1131.90,251.20 C1134.10,251.07 1136.28,251.22 1138.10,252.00 C1139.92,252.78 1141.63,254.22 1142.80,255.90 C1143.97,257.58 1144.85,260.03 1145.10,262.10 C1145.35,264.17 1144.22,265.58 1144.30,268.30 C1144.38,271.02 1145.85,276.47 1145.60,278.40 C1145.35,280.33 1143.40,279.30 1142.80,279.90 C1142.20,280.50 1142.78,280.97 1142.00,282.00 C1141.22,283.03 1139.13,285.67 1138.10,286.10 C1137.07,286.53 1137.03,285.80 1135.80,284.60 C1134.57,283.40 1132.07,279.17 1130.70,278.90 C1129.33,278.63 1128.30,281.15 1127.60,283.00 C1126.90,284.85 1126.55,287.53 1126.50,290.00 C1126.45,292.47 1126.87,295.33 1127.30,297.80 C1127.73,300.27 1127.55,301.95 1129.10,304.80 C1130.65,307.65 1133.53,310.88 1136.60,314.90 C1139.67,318.92 1144.13,324.77 1147.50,328.90 C1150.87,333.03 1154.22,337.65 1156.80,339.70 C1159.38,341.75 1161.20,340.72 1163.00,341.20 C1164.80,341.68 1166.63,341.88 1167.60,342.60 C1168.57,343.32 1169.03,344.47 1168.80,345.50 C1168.57,346.53 1167.60,348.17 1166.20,348.80 C1164.80,349.43 1161.92,349.73 1160.40,349.30 C1158.88,348.87 1158.48,347.63 1157.10,346.20 C1155.72,344.77 1155.00,344.03 1152.10,340.70 C1149.20,337.37 1143.20,330.60 1139.70,326.20 C1136.20,321.80 1132.60,315.50 1131.10,314.30 C1129.60,313.10 1130.77,317.35 1130.70,319.00 C1130.63,320.65 1131.02,322.03 1130.70,324.20 C1130.38,326.37 1129.37,329.67 1128.80,332.00 C1128.23,334.33 1127.65,336.53 1127.30,338.20 C1126.95,339.87 1126.98,340.48 1126.70,342.00 C1126.42,343.52 1126.47,346.05 1125.60,347.30 C1124.73,348.55 1122.40,346.63 1121.50,349.50 C1120.60,352.37 1120.58,359.28 1120.20,364.50 C1119.82,369.72 1119.52,377.00 1119.20,380.80 C1118.88,384.60 1118.67,384.85 1118.30,387.30 C1117.93,389.75 1117.45,391.97 1117.00,395.50 C1116.55,399.03 1115.93,404.70 1115.60,408.50 C1115.27,412.30 1114.92,415.85 1115.00,418.30 C1115.08,420.75 1114.83,421.70 1116.10,423.20 C1117.37,424.70 1120.02,426.13 1122.60,427.30 C1125.18,428.47 1129.63,428.98 1131.60,430.20 C1133.57,431.42 1134.67,433.32 1134.40,434.60 C1134.13,435.88 1134.42,437.40 1130.00,437.90 C1125.58,438.40 1111.98,438.28 1107.90,437.60 C1103.82,436.92 1105.90,435.38 1105.50,433.80 C1105.10,432.22 1105.15,430.13 1105.50,428.10 C1105.85,426.07 1107.32,424.87 1107.60,421.60 C1107.88,418.33 1107.30,412.85 1107.20,408.50 C1107.10,404.15 1106.90,400.12 1107.00,395.50 C1107.10,390.88 1107.80,385.97 1107.80,380.80 C1107.80,375.63 1107.43,369.67 1107.00,364.50 C1106.57,359.33 1105.80,353.88 1105.20,349.80 C1104.60,345.72 1104.00,342.45 1103.40,340.00 C1102.80,337.55 1102.02,337.48 1101.60,335.10 C1101.18,332.72 1101.07,329.07 1100.90,325.70 C1100.73,322.33 1100.48,318.52 1100.60,314.90 C1100.72,311.28 1100.90,307.88 1101.60,304.00 C1102.30,300.12 1103.12,295.48 1104.80,291.60 C1106.48,287.72 1109.25,283.80 1111.70,280.70 C1114.15,277.60 1117.55,275.07 1119.50,273.00 C1121.45,270.93 1123.02,269.60 1123.40,268.30 C1123.78,267.00 1122.25,267.02 1121.80,265.20 C1121.35,263.38 1120.18,259.47 1120.70,257.40 C1121.22,255.33 1123.03,253.83 1124.90,252.80 C1126.77,251.77 1129.70,251.33 1131.90,251.20Z"/>
<rect x="1162.3" y="345" width="1.9" height="91.3"/>
</g>
<path transform="translate(190,480) scale(0.18625)" d="M563,250 Q566,290 571,322 L576,322 Q571,290 569,250 Z M688,240 Q698,280 700,320 L706,318 Q705,280 695,240 Z M598,396 L640,385 L626,425 Z" fill="#fef5ef"/>
<clipPath id="silclip">
<path transform="translate(190,480) scale(0.18625,0.18625)" d="M178,192 C200,192 216,210 214,232 C213,250 208,258 204,266 L214,284 L230,282 L237,266 L234,252 L246,246 L256,250 L250,268 L247,290 L236,306 L216,312 L206,304 C210,325 208,345 200,360 C192,380 190,400 188,425 C184,460 172,490 158,515 L150,548 L142,552 L138,535 L130,538 L134,522 L148,502 C158,480 162,455 158,435 C152,415 140,400 128,392 L110,392 L100,398 L118,420 L124,432 L100,445 L84,452 L80,440 L96,428 L80,405 L66,388 L64,372 L75,362 L100,358 L120,362 L128,350 L120,345 L100,325 L100,310 L118,285 L135,270 L150,262 C142,250 140,235 142,222 C146,204 160,192 178,192 Z"/>
<path transform="translate(190,480) scale(0.18625,0.18625)" d="M608,92 C633,92 652,112 651,142 L655,150 L650,160 C647,172 640,184 630,190 L632,197 C650,196 672,196 690,206 C705,215 714,235 718,262 C722,290 722,305 718,322 C730,340 730,368 716,388 C700,412 680,425 662,432 L668,452 L662,468 L650,462 L653,484 L642,498 L630,490 L622,468 L612,456 C590,458 558,442 545,420 C533,398 537,372 552,352 L556,336 C545,325 540,300 542,275 C544,245 552,222 565,210 C575,202 585,199 592,197 L593,190 C577,180 566,160 566,138 C566,110 583,92 608,92 Z"/>
<path transform="translate(0,0) scale(1.00000,1.00000)" d="M396.70,340.02 C398.19,340.02 399.91,340.07 401.18,340.81 C402.46,341.56 403.64,342.88 404.35,344.50 C405.05,346.13 405.14,349.03 405.40,350.57 C405.66,352.11 406.02,352.68 405.93,353.73 C405.84,354.79 405.31,355.76 404.87,356.90 C404.43,358.04 403.91,359.54 403.29,360.59 C402.68,361.65 401.58,362.26 401.18,363.23 C400.79,364.19 400.35,365.65 400.92,366.39 C401.49,367.14 403.12,367.27 404.61,367.71 C406.10,368.15 408.35,368.37 409.88,369.03 C411.42,369.69 412.83,370.26 413.84,371.67 C414.85,373.07 415.51,374.96 415.95,377.47 C416.39,379.97 416.26,383.18 416.48,386.70 C416.70,390.21 417.00,394.83 417.27,398.57 C417.53,402.30 417.97,406.39 418.06,409.11 C418.15,411.84 418.15,413.16 417.80,414.92 C417.44,416.67 416.70,418.87 415.95,419.66 C415.20,420.45 413.93,420.45 413.31,419.66 C412.70,418.87 412.52,416.89 412.26,414.92 C411.99,412.94 411.91,410.52 411.73,407.80 C411.55,405.07 411.42,401.64 411.20,398.57 C410.98,395.49 410.63,389.34 410.41,389.34 C410.19,389.34 410.06,395.71 409.88,398.57 C409.71,401.42 409.36,403.84 409.36,406.48 C409.36,409.11 409.84,411.75 409.88,414.39 C409.93,417.03 409.80,418.78 409.62,422.30 C409.44,425.82 409.18,431.09 408.83,435.49 C408.48,439.88 407.91,444.72 407.51,448.67 C407.11,452.63 406.76,455.70 406.46,459.22 C406.15,462.74 405.49,466.91 405.66,469.77 C405.84,472.62 406.85,474.51 407.51,476.36 C408.17,478.21 409.36,479.66 409.62,480.84 C409.88,482.03 410.06,483.00 409.09,483.48 C408.13,483.96 405.18,484.18 403.82,483.74 C402.46,483.31 401.36,482.51 400.92,480.84 C400.48,479.17 401.18,476.89 401.18,473.72 C401.18,470.56 401.09,466.03 400.92,461.86 C400.74,457.68 400.43,453.07 400.13,448.67 C399.82,444.28 399.42,439.44 399.07,435.49 C398.72,431.53 398.41,427.31 398.02,424.94 C397.62,422.56 397.14,421.24 396.70,421.24 C396.26,421.24 395.78,422.56 395.38,424.94 C394.98,427.31 394.68,431.53 394.32,435.49 C393.97,439.44 393.58,444.28 393.27,448.67 C392.96,453.07 392.65,457.68 392.48,461.86 C392.30,466.03 392.22,470.56 392.22,473.72 C392.22,476.89 392.92,479.17 392.48,480.84 C392.04,482.51 390.94,483.31 389.58,483.74 C388.22,484.18 385.27,483.96 384.30,483.48 C383.34,483.00 383.51,482.03 383.78,480.84 C384.04,479.66 385.23,478.21 385.89,476.36 C386.55,474.51 387.56,472.62 387.73,469.77 C387.91,466.91 387.25,462.74 386.94,459.22 C386.63,455.70 386.28,452.63 385.89,448.67 C385.49,444.72 384.92,439.88 384.57,435.49 C384.22,431.09 383.95,425.82 383.78,422.30 C383.60,418.78 383.47,417.03 383.51,414.39 C383.56,411.75 384.04,409.11 384.04,406.48 C384.04,403.84 383.69,401.42 383.51,398.57 C383.34,395.71 383.20,389.34 382.99,389.34 C382.77,389.34 382.41,395.49 382.19,398.57 C381.97,401.64 381.84,405.07 381.67,407.80 C381.49,410.52 381.40,412.94 381.14,414.92 C380.88,416.89 380.70,418.87 380.08,419.66 C379.47,420.45 378.19,420.45 377.45,419.66 C376.70,418.87 375.95,416.67 375.60,414.92 C375.25,413.16 375.25,411.84 375.34,409.11 C375.43,406.39 375.86,402.30 376.13,398.57 C376.39,394.83 376.70,390.21 376.92,386.70 C377.14,383.18 377.01,379.97 377.45,377.47 C377.89,374.96 378.55,373.07 379.56,371.67 C380.57,370.26 381.97,369.69 383.51,369.03 C385.05,368.37 387.29,368.15 388.79,367.71 C390.28,367.27 391.91,367.14 392.48,366.39 C393.05,365.65 392.61,364.19 392.22,363.23 C391.82,362.26 390.72,361.65 390.11,360.59 C389.49,359.54 388.96,358.04 388.52,356.90 C388.08,355.76 387.56,354.79 387.47,353.73 C387.38,352.68 387.73,352.11 388.00,350.57 C388.26,349.03 388.35,346.13 389.05,344.50 C389.75,342.88 390.94,341.56 392.22,340.81 C393.49,340.07 395.20,340.02 396.70,340.02Z"/>
<path transform="translate(0,0) scale(1.00000,1.00000)" d="M511.90,240.40 C513.45,240.40 515.26,240.35 516.55,241.02 C517.84,241.69 518.92,242.72 519.64,244.43 C520.37,246.13 520.73,248.97 520.88,251.24 C521.04,253.51 520.88,256.09 520.57,258.06 C520.26,260.02 519.64,261.62 519.02,263.01 C518.40,264.41 517.27,264.97 516.86,266.42 C516.44,267.86 515.62,270.39 516.55,271.68 C517.48,272.97 520.42,273.54 522.43,274.16 C524.44,274.78 526.56,274.68 528.63,275.40 C530.69,276.12 533.38,276.59 534.82,278.50 C536.27,280.41 536.73,283.14 537.30,286.86 C537.87,290.58 537.87,296.41 538.23,300.80 C538.59,305.19 539.00,309.06 539.47,313.19 C539.93,317.32 540.55,322.22 541.02,325.58 C541.48,328.93 541.48,330.85 542.25,333.32 C543.03,335.80 544.73,338.23 545.66,340.45 C546.59,342.67 547.83,345.40 547.83,346.64 C547.83,347.88 546.38,348.29 545.66,347.88 C544.94,347.47 543.86,343.54 543.49,344.16 C543.13,344.78 543.96,350.00 543.49,351.60 C543.03,353.20 541.74,353.87 540.71,353.77 C539.67,353.66 538.12,352.68 537.30,350.98 C536.47,349.27 536.01,346.23 535.75,343.54 C535.49,340.86 536.19,338.38 535.75,334.87 C535.31,331.36 533.92,326.87 533.12,322.48 C532.32,318.09 531.54,312.57 530.95,308.54 C530.36,304.52 529.92,298.32 529.56,298.32 C529.19,298.32 529.01,305.03 528.78,308.54 C528.55,312.05 528.32,316.03 528.16,319.38 C528.01,322.74 527.67,325.58 527.85,328.68 C528.03,331.77 528.76,334.87 529.25,337.97 C529.74,341.07 530.54,343.65 530.79,347.26 C531.05,350.88 530.95,355.52 530.79,359.65 C530.64,363.78 530.38,368.43 529.87,372.04 C529.35,375.65 528.01,378.24 527.70,381.33 C527.39,384.43 528.01,387.53 528.01,390.63 C528.01,393.72 528.16,396.30 527.70,399.92 C527.23,403.53 525.94,409.11 525.22,412.31 C524.50,415.51 523.36,417.16 523.36,419.12 C523.36,421.08 524.70,422.68 525.22,424.08 C525.74,425.47 526.56,426.50 526.46,427.48 C526.35,428.47 525.74,429.55 524.60,429.96 C523.46,430.38 520.88,430.38 519.64,429.96 C518.40,429.55 517.53,428.88 517.17,427.48 C516.80,426.09 517.37,423.61 517.48,421.60 C517.58,419.59 517.79,418.50 517.79,415.40 C517.79,412.31 517.63,407.15 517.48,403.02 C517.32,398.89 517.01,394.24 516.86,390.63 C516.70,387.01 516.80,385.46 516.55,381.33 C516.29,377.20 515.82,370.75 515.31,365.85 C514.79,360.94 514.02,355.21 513.45,351.91 C512.88,348.60 512.42,346.02 511.90,346.02 C511.38,346.02 510.92,348.60 510.35,351.91 C509.78,355.21 509.01,360.94 508.49,365.85 C507.98,370.75 507.51,377.20 507.25,381.33 C507.00,385.46 507.10,387.01 506.94,390.63 C506.79,394.24 506.48,398.89 506.32,403.02 C506.17,407.15 506.01,412.31 506.01,415.40 C506.01,418.50 506.22,419.59 506.32,421.60 C506.43,423.61 507.00,426.09 506.63,427.48 C506.27,428.88 505.40,429.55 504.16,429.96 C502.92,430.38 500.34,430.38 499.20,429.96 C498.06,429.55 497.45,428.47 497.34,427.48 C497.24,426.50 498.06,425.47 498.58,424.08 C499.10,422.68 500.44,421.08 500.44,419.12 C500.44,417.16 499.30,415.51 498.58,412.31 C497.86,409.11 496.57,403.53 496.10,399.92 C495.64,396.30 495.79,393.72 495.79,390.63 C495.79,387.53 496.41,384.43 496.10,381.33 C495.79,378.24 494.45,375.65 493.93,372.04 C493.42,368.43 493.16,363.78 493.01,359.65 C492.85,355.52 492.75,350.88 493.01,347.26 C493.26,343.65 494.06,341.07 494.55,337.97 C495.04,334.87 495.77,331.77 495.95,328.68 C496.13,325.58 495.79,322.74 495.64,319.38 C495.48,316.03 495.25,312.05 495.02,308.54 C494.79,305.03 494.61,298.32 494.24,298.32 C493.88,298.32 493.44,304.52 492.85,308.54 C492.26,312.57 491.48,318.09 490.68,322.48 C489.88,326.87 488.49,331.36 488.05,334.87 C487.61,338.38 488.31,340.86 488.05,343.54 C487.79,346.23 487.33,349.27 486.50,350.98 C485.68,352.68 484.13,353.66 483.09,353.77 C482.06,353.87 480.77,353.20 480.31,351.60 C479.84,350.00 480.67,344.78 480.31,344.16 C479.94,343.54 478.86,347.47 478.14,347.88 C477.42,348.29 475.97,347.88 475.97,346.64 C475.97,345.40 477.21,342.67 478.14,340.45 C479.07,338.23 480.77,335.80 481.55,333.32 C482.32,330.85 482.32,328.93 482.78,325.58 C483.25,322.22 483.87,317.32 484.33,313.19 C484.80,309.06 485.21,305.19 485.57,300.80 C485.93,296.41 485.93,290.58 486.50,286.86 C487.07,283.14 487.53,280.41 488.98,278.50 C490.42,276.59 493.11,276.12 495.17,275.40 C497.24,274.68 499.36,274.78 501.37,274.16 C503.38,273.54 506.32,272.97 507.25,271.68 C508.18,270.39 507.36,267.86 506.94,266.42 C506.53,264.97 505.40,264.41 504.78,263.01 C504.16,261.62 503.54,260.02 503.23,258.06 C502.92,256.09 502.76,253.51 502.92,251.24 C503.07,248.97 503.43,246.13 504.16,244.43 C504.88,242.72 505.96,241.69 507.25,241.02 C508.54,240.35 510.35,240.40 511.90,240.40Z"/>
<path transform="translate(0,0) scale(1.00000,1.00000)" d="M655.01,195.12 C656.71,195.12 658.71,195.07 660.13,195.81 C661.55,196.55 662.75,197.69 663.55,199.57 C664.34,201.45 664.74,204.58 664.91,207.08 C665.08,209.59 664.91,212.43 664.57,214.60 C664.23,216.76 663.55,218.53 662.86,220.06 C662.18,221.60 660.93,222.23 660.47,223.82 C660.02,225.42 659.10,228.21 660.13,229.63 C661.15,231.05 664.40,231.68 666.62,232.36 C668.84,233.05 671.18,232.93 673.45,233.73 C675.73,234.53 678.69,235.04 680.29,237.15 C681.88,239.25 682.39,242.27 683.02,246.37 C683.65,250.47 683.65,256.91 684.05,261.75 C684.44,266.59 684.90,270.86 685.41,275.41 C685.92,279.97 686.61,285.38 687.12,289.08 C687.63,292.78 687.63,294.89 688.49,297.62 C689.34,300.35 691.22,303.03 692.24,305.48 C693.27,307.93 694.64,310.94 694.64,312.31 C694.64,313.68 693.04,314.13 692.24,313.68 C691.45,313.22 690.25,308.89 689.85,309.58 C689.45,310.26 690.37,316.01 689.85,317.78 C689.34,319.54 687.92,320.28 686.78,320.17 C685.64,320.05 683.93,318.97 683.02,317.09 C682.11,315.21 681.60,311.85 681.31,308.89 C681.03,305.93 681.80,303.20 681.31,299.33 C680.83,295.45 679.29,290.50 678.41,285.66 C677.53,280.82 676.67,274.73 676.02,270.29 C675.36,265.85 674.88,259.01 674.48,259.01 C674.08,259.01 673.88,266.41 673.62,270.29 C673.37,274.16 673.11,278.54 672.94,282.24 C672.77,285.95 672.40,289.08 672.60,292.49 C672.80,295.91 673.60,299.33 674.14,302.74 C674.68,306.16 675.56,309.01 675.85,312.99 C676.13,316.98 676.02,322.10 675.85,326.66 C675.67,331.21 675.39,336.34 674.82,340.32 C674.25,344.31 672.77,347.16 672.43,350.57 C672.09,353.99 672.77,357.41 672.77,360.82 C672.77,364.24 672.94,367.09 672.43,371.07 C671.92,375.06 670.49,381.21 669.70,384.74 C668.90,388.27 667.65,390.09 667.65,392.25 C667.65,394.42 669.13,396.18 669.70,397.72 C670.27,399.26 671.18,400.40 671.06,401.48 C670.95,402.56 670.27,403.76 669.01,404.21 C667.76,404.67 664.91,404.67 663.55,404.21 C662.18,403.76 661.21,403.02 660.81,401.48 C660.41,399.94 661.04,397.21 661.15,394.99 C661.27,392.77 661.50,391.57 661.50,388.16 C661.50,384.74 661.33,379.04 661.15,374.49 C660.98,369.93 660.64,364.81 660.47,360.82 C660.30,356.84 660.41,355.13 660.13,350.57 C659.85,346.02 659.33,338.90 658.76,333.49 C658.19,328.08 657.34,321.76 656.71,318.12 C656.09,314.47 655.57,311.63 655.01,311.63 C654.44,311.63 653.92,314.47 653.30,318.12 C652.67,321.76 651.82,328.08 651.25,333.49 C650.68,338.90 650.17,346.02 649.88,350.57 C649.60,355.13 649.71,356.84 649.54,360.82 C649.37,364.81 649.03,369.93 648.86,374.49 C648.68,379.04 648.51,384.74 648.51,388.16 C648.51,391.57 648.74,392.77 648.86,394.99 C648.97,397.21 649.60,399.94 649.20,401.48 C648.80,403.02 647.83,403.76 646.46,404.21 C645.10,404.67 642.25,404.67 641.00,404.21 C639.74,403.76 639.06,402.56 638.95,401.48 C638.83,400.40 639.74,399.26 640.31,397.72 C640.88,396.18 642.36,394.42 642.36,392.25 C642.36,390.09 641.11,388.27 640.31,384.74 C639.52,381.21 638.09,375.06 637.58,371.07 C637.07,367.09 637.24,364.24 637.24,360.82 C637.24,357.41 637.92,353.99 637.58,350.57 C637.24,347.16 635.76,344.31 635.19,340.32 C634.62,336.34 634.34,331.21 634.16,326.66 C633.99,322.10 633.88,316.98 634.16,312.99 C634.45,309.01 635.33,306.16 635.87,302.74 C636.41,299.33 637.21,295.91 637.41,292.49 C637.61,289.08 637.24,285.95 637.07,282.24 C636.90,278.54 636.64,274.16 636.39,270.29 C636.13,266.41 635.93,259.01 635.53,259.01 C635.13,259.01 634.65,265.85 633.99,270.29 C633.34,274.73 632.48,280.82 631.60,285.66 C630.72,290.50 629.18,295.45 628.70,299.33 C628.21,303.20 628.98,305.93 628.70,308.89 C628.41,311.85 627.90,315.21 626.99,317.09 C626.08,318.97 624.37,320.05 623.23,320.17 C622.09,320.28 620.67,319.54 620.16,317.78 C619.64,316.01 620.56,310.26 620.16,309.58 C619.76,308.89 618.56,313.22 617.77,313.68 C616.97,314.13 615.37,313.68 615.37,312.31 C615.37,310.94 616.74,307.93 617.77,305.48 C618.79,303.03 620.67,300.35 621.52,297.62 C622.38,294.89 622.38,292.78 622.89,289.08 C623.40,285.38 624.09,279.97 624.60,275.41 C625.11,270.86 625.57,266.59 625.97,261.75 C626.36,256.91 626.36,250.47 626.99,246.37 C627.62,242.27 628.13,239.25 629.72,237.15 C631.32,235.04 634.28,234.53 636.56,233.73 C638.83,232.93 641.17,233.05 643.39,232.36 C645.61,231.68 648.86,231.05 649.88,229.63 C650.91,228.21 649.99,225.42 649.54,223.82 C649.08,222.23 647.83,221.60 647.15,220.06 C646.46,218.53 645.78,216.76 645.44,214.60 C645.10,212.43 644.93,209.59 645.10,207.08 C645.27,204.58 645.67,201.45 646.46,199.57 C647.26,197.69 648.46,196.55 649.88,195.81 C651.30,195.07 653.30,195.12 655.01,195.12Z"/>
<path transform="translate(0,0) scale(1.00000,1.00000)" d="M811.90,176.00 C813.83,176.00 816.22,176.00 817.70,176.70 C819.18,177.40 820.08,178.68 820.80,180.20 C821.52,181.72 821.72,184.45 822.00,185.80 C822.28,187.15 822.57,187.27 822.50,188.30 C822.43,189.33 822.07,190.77 821.60,192.00 C821.13,193.23 820.30,194.62 819.70,195.70 C819.10,196.78 818.30,197.10 818.00,198.50 C817.70,199.90 816.55,202.27 817.90,204.10 C819.25,205.93 823.35,207.98 826.10,209.50 C828.85,211.02 832.17,211.65 834.40,213.20 C836.63,214.75 838.32,216.37 839.50,218.80 C840.68,221.23 841.03,223.52 841.50,227.80 C841.97,232.08 841.98,239.13 842.30,244.50 C842.62,249.87 842.92,254.45 843.40,260.00 C843.88,265.55 844.90,273.73 845.20,277.80 C845.50,281.87 845.42,281.77 845.20,284.40 C844.98,287.03 845.00,291.07 843.90,293.60 C842.80,296.13 840.15,299.05 838.60,299.60 C837.05,300.15 834.90,297.90 834.60,296.90 C834.30,295.90 836.80,294.58 836.80,293.60 C836.80,292.62 835.03,291.87 834.60,291.00 C834.17,290.13 833.83,289.28 834.20,288.40 C834.57,287.52 836.25,286.80 836.80,285.70 C837.35,284.60 837.50,283.12 837.50,281.80 C837.50,280.48 837.28,280.10 836.80,277.80 C836.32,275.50 835.20,271.30 834.60,268.00 C834.00,264.70 833.57,261.33 833.20,258.00 C832.83,254.67 832.63,250.75 832.40,248.00 C832.17,245.25 831.98,241.50 831.80,241.50 C831.62,241.50 831.40,245.25 831.30,248.00 C831.20,250.75 831.23,254.67 831.20,258.00 C831.17,261.33 831.13,264.67 831.10,268.00 C831.07,271.33 831.05,274.17 831.00,278.00 C830.95,281.83 830.88,287.33 830.80,291.00 C830.72,294.67 830.58,297.03 830.50,300.00 C830.42,302.97 830.88,304.42 830.30,308.80 C829.72,313.18 827.97,319.82 827.00,326.30 C826.03,332.78 825.40,340.25 824.50,347.70 C823.60,355.15 821.12,365.45 821.60,371.00 C822.08,376.55 826.75,378.73 827.40,381.00 C828.05,383.27 827.27,383.93 825.50,384.60 C823.73,385.27 818.58,385.48 816.80,385.00 C815.02,384.52 814.90,384.03 814.80,381.70 C814.70,379.37 816.10,376.67 816.20,371.00 C816.30,365.33 815.40,355.15 815.40,347.70 C815.40,340.25 816.47,332.78 816.20,326.30 C815.93,319.82 814.52,314.30 813.80,308.80 C813.08,303.30 812.53,293.30 811.90,293.30 C811.27,293.30 810.72,303.30 810.00,308.80 C809.28,314.30 807.87,319.82 807.60,326.30 C807.33,332.78 808.40,340.25 808.40,347.70 C808.40,355.15 807.50,365.33 807.60,371.00 C807.70,376.67 809.10,379.37 809.00,381.70 C808.90,384.03 808.78,384.52 807.00,385.00 C805.22,385.48 800.07,385.27 798.30,384.60 C796.53,383.93 795.75,383.27 796.40,381.00 C797.05,378.73 801.72,376.55 802.20,371.00 C802.68,365.45 800.20,355.15 799.30,347.70 C798.40,340.25 797.77,332.78 796.80,326.30 C795.83,319.82 794.08,313.18 793.50,308.80 C792.92,304.42 793.38,302.97 793.30,300.00 C793.22,297.03 793.08,294.67 793.00,291.00 C792.92,287.33 792.85,281.83 792.80,278.00 C792.75,274.17 792.73,271.33 792.70,268.00 C792.67,264.67 792.63,261.33 792.60,258.00 C792.57,254.67 792.60,250.75 792.50,248.00 C792.40,245.25 792.18,241.50 792.00,241.50 C791.82,241.50 791.63,245.25 791.40,248.00 C791.17,250.75 790.97,254.67 790.60,258.00 C790.23,261.33 789.80,264.70 789.20,268.00 C788.60,271.30 787.48,275.50 787.00,277.80 C786.52,280.10 786.30,280.48 786.30,281.80 C786.30,283.12 786.45,284.60 787.00,285.70 C787.55,286.80 789.23,287.52 789.60,288.40 C789.97,289.28 789.63,290.13 789.20,291.00 C788.77,291.87 787.00,292.62 787.00,293.60 C787.00,294.58 789.50,295.90 789.20,296.90 C788.90,297.90 786.75,300.15 785.20,299.60 C783.65,299.05 781.00,296.13 779.90,293.60 C778.80,291.07 778.82,287.03 778.60,284.40 C778.38,281.77 778.30,281.87 778.60,277.80 C778.90,273.73 779.92,265.55 780.40,260.00 C780.88,254.45 781.18,249.87 781.50,244.50 C781.82,239.13 781.83,232.08 782.30,227.80 C782.77,223.52 783.12,221.23 784.30,218.80 C785.48,216.37 787.17,214.75 789.40,213.20 C791.63,211.65 794.95,211.02 797.70,209.50 C800.45,207.98 804.55,205.93 805.90,204.10 C807.25,202.27 806.10,199.90 805.80,198.50 C805.50,197.10 804.70,196.78 804.10,195.70 C803.50,194.62 802.67,193.23 802.20,192.00 C801.73,190.77 801.37,189.33 801.30,188.30 C801.23,187.27 801.52,187.15 801.80,185.80 C802.08,184.45 802.28,181.72 803.00,180.20 C803.72,178.68 804.62,177.40 806.10,176.70 C807.58,176.00 809.97,176.00 811.90,176.00Z"/>
<path transform="translate(0,0) scale(1.00000,1.00000)" d="M979.50,199.90 C981.67,199.90 984.30,199.67 986.00,200.30 C987.70,200.93 988.93,202.32 989.70,203.70 C990.47,205.08 990.53,206.98 990.60,208.60 C990.67,210.22 990.52,211.62 990.10,213.40 C989.68,215.18 988.67,217.52 988.10,219.30 C987.53,221.08 986.93,222.07 986.70,224.10 C986.47,226.13 985.80,229.72 986.70,231.50 C987.60,233.28 990.23,233.60 992.10,234.80 C993.97,236.00 996.02,236.85 997.90,238.70 C999.78,240.55 1002.03,243.15 1003.40,245.90 C1004.77,248.65 1005.33,251.38 1006.10,255.20 C1006.87,259.02 1007.35,264.27 1008.00,268.80 C1008.65,273.33 1009.47,277.55 1010.00,282.40 C1010.53,287.25 1010.95,293.85 1011.20,297.90 C1011.45,301.95 1011.60,304.12 1011.50,306.70 C1011.40,309.28 1011.23,311.30 1010.60,313.40 C1009.97,315.50 1008.68,317.93 1007.70,319.30 C1006.72,320.67 1005.55,321.60 1004.70,321.60 C1003.85,321.60 1002.82,320.67 1002.60,319.30 C1002.38,317.93 1003.05,315.50 1003.40,313.40 C1003.75,311.30 1004.57,309.12 1004.70,306.70 C1004.83,304.28 1004.52,302.15 1004.20,298.90 C1003.88,295.65 1003.27,290.27 1002.80,287.20 C1002.33,284.13 1001.78,280.53 1001.40,280.50 C1001.02,280.47 1000.82,283.93 1000.50,287.00 C1000.18,290.07 999.93,295.95 999.50,298.90 C999.07,301.85 998.32,302.12 997.90,304.70 C997.48,307.28 997.32,309.55 997.00,314.40 C996.68,319.25 996.33,327.32 996.00,333.80 C995.67,340.28 995.25,346.82 995.00,353.30 C994.75,359.78 994.83,366.23 994.50,372.70 C994.17,379.17 993.35,387.57 993.00,392.10 C992.65,396.63 991.73,397.63 992.40,399.90 C993.07,402.17 996.40,404.18 997.00,405.70 C997.60,407.22 997.13,408.35 996.00,409.00 C994.87,409.65 991.65,410.48 990.20,409.60 C988.75,408.72 987.92,406.62 987.30,403.70 C986.68,400.78 987.05,397.27 986.50,392.10 C985.95,386.93 984.68,379.17 984.00,372.70 C983.32,366.23 982.92,359.78 982.40,353.30 C981.88,346.82 981.38,340.12 980.90,333.80 C980.42,327.48 979.97,315.40 979.50,315.40 C979.03,315.40 978.58,327.48 978.10,333.80 C977.62,340.12 977.12,346.82 976.60,353.30 C976.08,359.78 975.68,366.23 975.00,372.70 C974.32,379.17 973.05,386.93 972.50,392.10 C971.95,397.27 972.32,400.78 971.70,403.70 C971.08,406.62 970.25,408.72 968.80,409.60 C967.35,410.48 964.13,409.65 963.00,409.00 C961.87,408.35 961.40,407.22 962.00,405.70 C962.60,404.18 965.93,402.17 966.60,399.90 C967.27,397.63 966.35,396.63 966.00,392.10 C965.65,387.57 964.83,379.17 964.50,372.70 C964.17,366.23 964.25,359.78 964.00,353.30 C963.75,346.82 963.33,340.28 963.00,333.80 C962.67,327.32 962.32,319.25 962.00,314.40 C961.68,309.55 961.52,307.28 961.10,304.70 C960.68,302.12 959.93,301.85 959.50,298.90 C959.07,295.95 958.82,290.07 958.50,287.00 C958.18,283.93 957.98,280.47 957.60,280.50 C957.22,280.53 956.67,284.13 956.20,287.20 C955.73,290.27 955.12,295.65 954.80,298.90 C954.48,302.15 954.17,304.28 954.30,306.70 C954.43,309.12 955.25,311.30 955.60,313.40 C955.95,315.50 956.62,317.93 956.40,319.30 C956.18,320.67 955.15,321.60 954.30,321.60 C953.45,321.60 952.28,320.67 951.30,319.30 C950.32,317.93 949.03,315.50 948.40,313.40 C947.77,311.30 947.60,309.28 947.50,306.70 C947.40,304.12 947.55,301.95 947.80,297.90 C948.05,293.85 948.47,287.25 949.00,282.40 C949.53,277.55 950.35,273.33 951.00,268.80 C951.65,264.27 952.13,259.02 952.90,255.20 C953.67,251.38 954.23,248.65 955.60,245.90 C956.97,243.15 959.22,240.55 961.10,238.70 C962.98,236.85 965.03,236.00 966.90,234.80 C968.77,233.60 971.40,233.28 972.30,231.50 C973.20,229.72 972.53,226.13 972.30,224.10 C972.07,222.07 971.47,221.08 970.90,219.30 C970.33,217.52 969.32,215.18 968.90,213.40 C968.48,211.62 968.33,210.22 968.40,208.60 C968.47,206.98 968.53,205.08 969.30,203.70 C970.07,202.32 971.30,200.93 973.00,200.30 C974.70,199.67 977.33,199.90 979.50,199.90Z"/>
<path transform="translate(0,0) scale(1.00000,1.00000)" d="M1131.90,251.20 C1134.10,251.07 1136.28,251.22 1138.10,252.00 C1139.92,252.78 1141.63,254.22 1142.80,255.90 C1143.97,257.58 1144.85,260.03 1145.10,262.10 C1145.35,264.17 1144.22,265.58 1144.30,268.30 C1144.38,271.02 1145.85,276.47 1145.60,278.40 C1145.35,280.33 1143.40,279.30 1142.80,279.90 C1142.20,280.50 1142.78,280.97 1142.00,282.00 C1141.22,283.03 1139.13,285.67 1138.10,286.10 C1137.07,286.53 1137.03,285.80 1135.80,284.60 C1134.57,283.40 1132.07,279.17 1130.70,278.90 C1129.33,278.63 1128.30,281.15 1127.60,283.00 C1126.90,284.85 1126.55,287.53 1126.50,290.00 C1126.45,292.47 1126.87,295.33 1127.30,297.80 C1127.73,300.27 1127.55,301.95 1129.10,304.80 C1130.65,307.65 1133.53,310.88 1136.60,314.90 C1139.67,318.92 1144.13,324.77 1147.50,328.90 C1150.87,333.03 1154.22,337.65 1156.80,339.70 C1159.38,341.75 1161.20,340.72 1163.00,341.20 C1164.80,341.68 1166.63,341.88 1167.60,342.60 C1168.57,343.32 1169.03,344.47 1168.80,345.50 C1168.57,346.53 1167.60,348.17 1166.20,348.80 C1164.80,349.43 1161.92,349.73 1160.40,349.30 C1158.88,348.87 1158.48,347.63 1157.10,346.20 C1155.72,344.77 1155.00,344.03 1152.10,340.70 C1149.20,337.37 1143.20,330.60 1139.70,326.20 C1136.20,321.80 1132.60,315.50 1131.10,314.30 C1129.60,313.10 1130.77,317.35 1130.70,319.00 C1130.63,320.65 1131.02,322.03 1130.70,324.20 C1130.38,326.37 1129.37,329.67 1128.80,332.00 C1128.23,334.33 1127.65,336.53 1127.30,338.20 C1126.95,339.87 1126.98,340.48 1126.70,342.00 C1126.42,343.52 1126.47,346.05 1125.60,347.30 C1124.73,348.55 1122.40,346.63 1121.50,349.50 C1120.60,352.37 1120.58,359.28 1120.20,364.50 C1119.82,369.72 1119.52,377.00 1119.20,380.80 C1118.88,384.60 1118.67,384.85 1118.30,387.30 C1117.93,389.75 1117.45,391.97 1117.00,395.50 C1116.55,399.03 1115.93,404.70 1115.60,408.50 C1115.27,412.30 1114.92,415.85 1115.00,418.30 C1115.08,420.75 1114.83,421.70 1116.10,423.20 C1117.37,424.70 1120.02,426.13 1122.60,427.30 C1125.18,428.47 1129.63,428.98 1131.60,430.20 C1133.57,431.42 1134.67,433.32 1134.40,434.60 C1134.13,435.88 1134.42,437.40 1130.00,437.90 C1125.58,438.40 1111.98,438.28 1107.90,437.60 C1103.82,436.92 1105.90,435.38 1105.50,433.80 C1105.10,432.22 1105.15,430.13 1105.50,428.10 C1105.85,426.07 1107.32,424.87 1107.60,421.60 C1107.88,418.33 1107.30,412.85 1107.20,408.50 C1107.10,404.15 1106.90,400.12 1107.00,395.50 C1107.10,390.88 1107.80,385.97 1107.80,380.80 C1107.80,375.63 1107.43,369.67 1107.00,364.50 C1106.57,359.33 1105.80,353.88 1105.20,349.80 C1104.60,345.72 1104.00,342.45 1103.40,340.00 C1102.80,337.55 1102.02,337.48 1101.60,335.10 C1101.18,332.72 1101.07,329.07 1100.90,325.70 C1100.73,322.33 1100.48,318.52 1100.60,314.90 C1100.72,311.28 1100.90,307.88 1101.60,304.00 C1102.30,300.12 1103.12,295.48 1104.80,291.60 C1106.48,287.72 1109.25,283.80 1111.70,280.70 C1114.15,277.60 1117.55,275.07 1119.50,273.00 C1121.45,270.93 1123.02,269.60 1123.40,268.30 C1123.78,267.00 1122.25,267.02 1121.80,265.20 C1121.35,263.38 1120.18,259.47 1120.70,257.40 C1121.22,255.33 1123.03,253.83 1124.90,252.80 C1126.77,251.77 1129.70,251.33 1131.90,251.20Z"/>
</clipPath>
<g clip-path="url(#silclip)" opacity="0.36">
<path d="M228.0,546.0 C230.8,546.8 238.8,549.9 245.0,551.0 C251.2,552.1 259.2,552.5 265.0,552.6 C270.8,552.7 275.5,552.3 280.0,551.5 C284.5,550.7 287.3,550.2 292.0,548.0 C296.7,545.8 302.8,542.2 308.0,538.0 C313.2,533.8 317.2,530.0 323.0,523.0 C328.8,516.0 335.6,506.4 342.6,496.2 C349.6,486.0 357.9,472.1 365.0,462.0 C372.1,451.9 377.5,444.9 385.0,435.5 C392.5,426.1 403.4,413.0 410.0,405.5 C416.6,398.0 418.2,397.0 424.8,390.4 C431.4,383.8 441.4,373.1 449.7,365.6 C458.0,358.2 467.1,351.3 474.5,345.7 C481.9,340.1 485.3,337.6 494.4,331.8 C503.5,326.0 516.0,317.9 529.2,311.0 C542.5,304.1 558.2,296.7 573.9,290.3 C589.6,283.9 606.0,278.2 623.6,272.9 C641.2,267.5 663.2,262.2 679.3,258.2 C695.4,254.1 708.2,251.1 720.0,248.6 C731.8,246.1 740.2,244.5 750.0,243.0 C759.8,241.5 770.3,240.5 778.6,239.8 C786.9,239.1 789.3,238.9 800.0,239.0 C810.7,239.1 829.7,239.2 843.0,240.5 C856.3,241.8 868.0,244.3 880.0,246.5 C892.0,248.7 903.2,250.9 915.0,253.6 C926.8,256.3 936.4,258.8 950.7,262.8 C965.0,266.8 985.0,272.3 1000.7,277.5 C1016.4,282.7 1032.6,289.2 1045.0,294.0 C1057.4,298.8 1065.7,302.1 1075.0,306.0 C1084.3,309.9 1091.5,313.1 1101.0,317.5 C1110.5,321.9 1122.8,328.0 1132.0,332.5 C1141.2,337.0 1146.5,338.7 1156.5,344.5 C1166.5,350.3 1186.1,363.7 1192.0,367.5" fill="none" stroke="#1d3a66" stroke-width="2.4" opacity="0.6"/>
<line x1="778" y1="228.6" x2="865" y2="228.6" stroke="#1d3a66" stroke-width="1.9"/>
<line x1="364.6" y1="460.4" x2="577.2" y2="460.4" stroke="#6f8f86" stroke-width="1.9"/>
<line x1="933.5" y1="242.8" x2="1035.4" y2="242.8" stroke="#1d3a66" stroke-width="1.9"/>
<line x1="925" y1="272.6" x2="970.8" y2="272.6" stroke="#1d3a66" stroke-width="1.9"/><path d="M967.7,272.6 L970.8,268.0 L973.9,272.6 L970.8,277.2Z" fill="#1d3a66"/>
</g>
<circle cx="1163.6" cy="344.6" r="1.3" fill="#fef5ef" opacity="0.85"/>
<path d="M919,167 L926.2,156" stroke="#7d7d7d" stroke-width="1.2" fill="none"/><path d="M928,153.2 L926.6,160.6 L925.4,157.6 L922.1,157.6 Z" fill="#7d7d7d"/>
<path d="M1197.2,325.3 L1197.2,29 L1205,29 Q1208,29.3 1208,32.5 L1208,325.3 Z" fill="#d9999b"/>
<path d="M1207.5,175.6 L1218,176.6 L1218,177.8 L1207.5,179.6 Z" fill="#d9999b"/>
<rect x="1197.2" y="325.3" width="10.1" height="263" fill="#9bbb59"/>
<path d="M1207.5,455.4 L1216.5,456.6 L1216.5,457.8 L1207.5,459.6 Z" fill="#9bbb59"/>
<rect x="182.5" y="22" width="2.1" height="566.8" fill="#1c1a12"/>
<path d="M183.6,8 L188.7,25.2 L183.6,23.2 L178.5,25.2 Z" fill="#1c1a12"/>
<rect x="182.6" y="586.7" width="1024" height="2.1" fill="#1c1a12"/>
<path d="M1221.5,588 L1205,582.9 L1207,588 L1205,593.1 Z" fill="#1c1a12"/>
<rect x="178.5" y="74.44999999999999" width="4.5" height="2.3" fill="#1c1a12"/>
<rect x="178.5" y="193.54999999999998" width="4.5" height="2.3" fill="#1c1a12"/>
<rect x="178.5" y="325.65000000000003" width="4.5" height="2.3" fill="#1c1a12"/>
<rect x="178.5" y="458.55" width="4.5" height="2.3" fill="#1c1a12"/>
<g opacity="0.999">
<text x="174.9" y="79.6" font-size="16" text-anchor="end">2.0</text>
<text x="174.9" y="198.3" font-size="16" text-anchor="end">1.5</text>
<text x="174.9" y="331.4" font-size="16" text-anchor="end">1.0</text>
<text x="174.9" y="463" font-size="16" text-anchor="end">0.5</text>
<text x="437.0" y="614" font-size="16" text-anchor="middle">15</text>
<text x="483.0" y="614" font-size="16" text-anchor="middle">20</text>
<text x="529.1" y="614" font-size="16" text-anchor="middle">25</text>
<text x="575.1" y="614" font-size="16" text-anchor="middle">30</text>
<text x="621.1" y="614" font-size="16" text-anchor="middle">35</text>
<text x="667.1" y="614" font-size="16" text-anchor="middle">40</text>
<text x="713.2" y="614" font-size="16" text-anchor="middle">45</text>
<text x="759.2" y="614" font-size="16" text-anchor="middle">50</text>
<text x="805.2" y="614" font-size="16" text-anchor="middle">55</text>
<text x="851.3" y="614" font-size="16" text-anchor="middle">60</text>
<text x="897.3" y="614" font-size="16" text-anchor="middle">65</text>
<text x="943.3" y="614" font-size="16" text-anchor="middle">70</text>
<text x="989.4" y="614" font-size="16" text-anchor="middle">75</text>
<text x="1035.4" y="614" font-size="16" text-anchor="middle">80</text>
<text x="1081.4" y="614" font-size="16" text-anchor="middle">85</text>
<text x="1127.5" y="614" font-size="16" text-anchor="middle">90</text>
<text x="198" y="613.2" font-size="14.5">Infant and children period</text>
<path d="M382.2,607.4 L401.5,607.4 M397.3,603.6 L402.3,607.4 L397.3,611.2" stroke="#111111" stroke-width="1.1" fill="none"/>
<text x="690.3" y="642.3" font-size="16" text-anchor="middle">Mean age (years)</text>
<text transform="translate(141,313) rotate(-90)" font-size="16" text-anchor="middle">Summary RR</text>
<text transform="translate(1238.5,174) rotate(-90)" font-size="16" text-anchor="middle">Risky</text>
<text transform="translate(1238.5,452.5) rotate(-90)" font-size="16" text-anchor="middle">Protective</text>
<circle cx="214.8" cy="48.2" r="7" fill="url(#gA)"/><circle cx="214.8" cy="70" r="7" fill="url(#gB)"/>
<text x="239.5" y="52.9" font-size="12.2">Level A</text><text x="239.5" y="75.9" font-size="12.2">Level B</text>
<text x="276" y="404.3" font-size="12.2" text-anchor="middle" fill="#24241c">Early-life modifiable risk</text>
<text x="276" y="419.1" font-size="12.2" text-anchor="middle" fill="#24241c">factors for AD were</text>
<text x="276" y="433.6" font-size="12.2" text-anchor="middle" fill="#24241c">rarely investigated.</text>
</g>
</svg></body></html>
